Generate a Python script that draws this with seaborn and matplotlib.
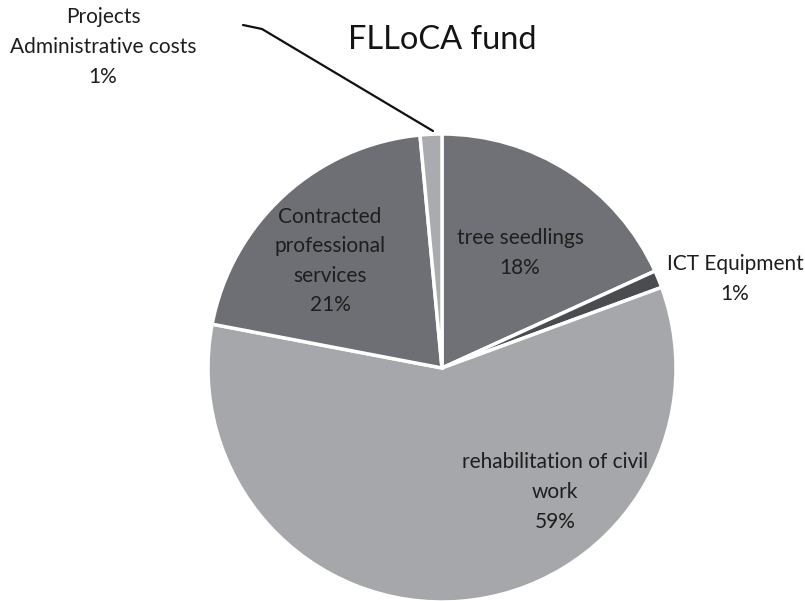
import matplotlib.pyplot as plt
import seaborn as sns

# FLLoCA fund allocation (shares)
categories = ["tree seedlings", "ICT Equipment", "rehabilitation of civil work",
              "Contracted professional services", "Projects Administrative costs"]
shares = [18.2, 1.2, 58.6, 20.5, 1.5]
pct_labels = ["18%", "1%", "59%", "21%", "1%"]
label_text = ["tree seedlings", "ICT Equipment", "rehabilitation of civil\nwork",
              "Contracted\nprofessional\nservices", "Projects\nAdministrative costs"]

colors = ["#707176", "#4b4c50", "#a5a7ab", "#6e6f74", "#a9abae"]

sns.set_style("white")
plt.rcParams["font.family"] = ["Lato", "DejaVu Sans"]

fig = plt.figure(figsize=(8.05, 6.01), dpi=100)
ax = fig.add_axes([0, 0, 1, 1])

# y axis is flipped below, so counterclock=True draws clockwise on screen
wedges, _ = ax.pie(shares, colors=colors, startangle=-90, counterclock=True,
                   center=(442, 368), radius=234, frame=True,
                   wedgeprops=dict(edgecolor="white", linewidth=2.5))
ax.set_xlim(0, 805)
ax.set_ylim(601, 0)
ax.set_aspect("equal")
ax.axis("off")

txt = "#1e1e1e"
fs = 15
ls = 1.6
ax.text(442, 40, "FLLoCA fund", ha="center", va="center", fontsize=23.5, color="#141414")

inside = {0: (520, 253), 2: (555, 492), 3: (330, 261)}
for i, (x, y) in inside.items():
    ax.text(x, y, label_text[i] + "\n" + pct_labels[i], ha="center", va="center",
            fontsize=fs, color=txt, linespacing=ls)

ax.text(735, 279, label_text[1] + "\n" + pct_labels[1], ha="center", va="center",
        fontsize=fs, color=txt, linespacing=ls)
ax.text(103, 47, label_text[4] + "\n" + pct_labels[4], ha="center", va="center",
        fontsize=fs, color=txt, linespacing=ls)

# leader line for the tiny admin slice
ax.plot([243, 262, 433], [25, 29, 131], color="#111111", lw=1.6)

fig.savefig("out.png", dpi=100)
